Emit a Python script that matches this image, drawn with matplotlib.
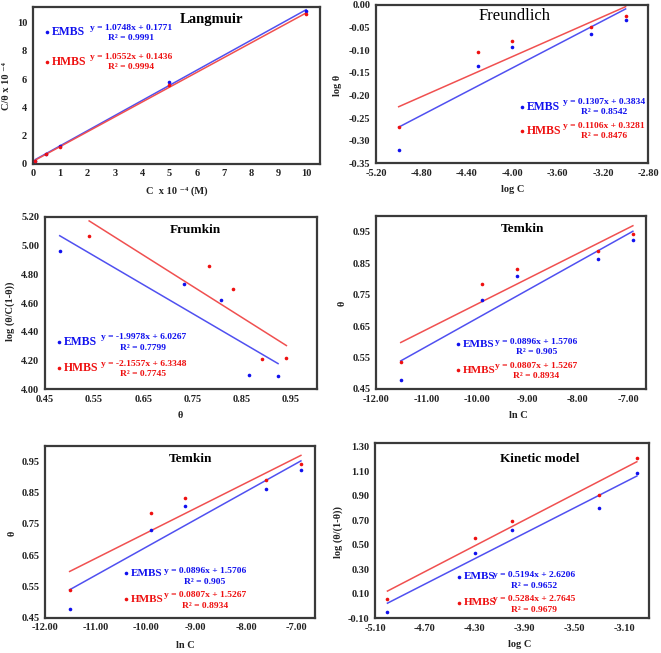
import matplotlib
matplotlib.use("Agg")
import matplotlib.pyplot as plt
from matplotlib.lines import Line2D
import numpy as np

plt.rcParams['font.family'] = ['Liberation Serif', 'DejaVu Serif']
plt.rcParams['axes.unicode_minus'] = False

# ---------------- data ----------------
series_names = ["EMBS", "HMBS"]

# Langmuir
lang_C = [0.1, 0.5, 1, 5, 10]
lang_embs = [0.21, 0.68, 1.23, 5.82, 10.87]
lang_hmbs = [0.19, 0.64, 1.20, 5.55, 10.62]
lang_fit = [(1.0748, 0.1771), (1.0552, 0.1436)]
lang_eq = [("y = 1.0748x + 0.1771", "R² = 0.9991"), ("y = 1.0552x + 0.1436", "R² = 0.9994")]

# Freundlich
fr_logC = [-5.0, -4.301, -4.0, -3.301, -3.0]
fr_embs = [-0.320, -0.135, -0.093, -0.064, -0.034]
fr_hmbs = [-0.269, -0.105, -0.079, -0.049, -0.025]
fr_fit = [(0.1307, 0.3834), (0.1106, 0.3281)]
fr_eq = [("y = 0.1307x + 0.3834", "R² = 0.8542"), ("y = 0.1106x + 0.3281", "R² = 0.8476")]

# Frumkin
fm_theta_embs = [0.480, 0.733, 0.808, 0.865, 0.925]
fm_y_embs = [4.96, 4.735, 4.62, 4.10, 4.09]
fm_theta_hmbs = [0.540, 0.785, 0.833, 0.892, 0.942]
fm_y_hmbs = [5.065, 4.86, 4.70, 4.21, 4.215]
fm_fit = [(-1.9978, 6.0267), (-2.1557, 6.3348)]
fm_eq = [("y = -1.9978x + 6.0267", "R² = 0.7799"), ("y = -2.1557x + 6.3348", "R² = 0.7745")]

# Temkin
tk_lnC = [-11.51, -9.90, -9.21, -7.60, -6.91]
tk_embs = [0.478, 0.732, 0.808, 0.862, 0.923]
tk_hmbs = [0.537, 0.785, 0.832, 0.889, 0.943]
tk_fit = [(0.0896, 1.5706), (0.0807, 1.5267)]
tk_eq = [("y = 0.0896x + 1.5706", "R² = 0.905"), ("y = 0.0807x + 1.5267", "R² = 0.8934")]

# Kinetic model
kn_logC = [-5.0, -4.301, -4.0, -3.301, -3.0]
kn_embs = [-0.045, 0.43, 0.62, 0.80, 1.09]
kn_hmbs = [0.06, 0.557, 0.696, 0.91, 1.21]
kn_fit = [(0.5194, 2.6206), (0.5284, 2.7645)]
kn_eq = [("y = 0.5194x + 2.6206", "R² = 0.9652"), ("y = 0.5284x + 2.7645", "R² = 0.9679")]

# ---------------- style ----------------
W, H = 661, 653
DPI = 100
fig = plt.figure(figsize=(W / DPI, H / DPI), dpi=DPI)
fig.patch.set_facecolor('white')

PT_COL = ["#1010ee", "#ee1010"]
LN_COL = ["#5050f0", "#f05050"]
FRAME = "#3a3a3a"


def fx(px):
    return px / W


def fy(py):
    return 1 - py / H


def make_ax(L, R, T, B):
    ax = fig.add_axes([fx(L), fy(B), fx(R) - fx(L), (B - T) / H])
    for s in ax.spines.values():
        s.set_color(FRAME)
        s.set_linewidth(1.6)
    ax.tick_params(length=0, labelsize=7.5, pad=4)
    return ax


def bold_ticks(ax, xt, yt, xfmt, yfmt):
    ax.set_xticks(xt)
    ax.set_yticks(yt)
    ax.set_xticklabels([xfmt.format(v) for v in xt], fontweight='bold', fontsize=7.5, color="#222222")
    ax.set_yticklabels([yfmt.format(v) for v in yt], fontweight='bold', fontsize=7.5, color="#222222")


def draw_series(ax, xs_list, ys_list, fits):
    for i in range(2):
        xs = np.array(xs_list[i])
        ys = np.array(ys_list[i])
        m, b = fits[i]
        xl = np.array([xs.min(), xs.max()])
        ax.plot(xl, m * xl + b, color=LN_COL[i], lw=1.1, zorder=2)
        ax.plot(xs, ys, 'o', color=PT_COL[i], ms=2.6, mec='none', zorder=3)


def legend_block(dot, eqc, dy_eq, eqs, fs_name=8.0, fs_eq=6.8):
    for i in range(2):
        x, y = dot[i]
        fig.add_artist(Line2D([fx(x)], [fy(y)], marker='o', ms=2.6, color=PT_COL[i],
                              mec='none', transform=fig.transFigure))
        fig.text(fx(x + 5), fy(y), series_names[i], color=PT_COL[i], fontsize=fs_name,
                 fontweight='bold', ha='left', va='center')
        ex, ey = eqc[i]
        fig.text(fx(ex), fy(ey), eqs[i][0], color=PT_COL[i], fontsize=fs_eq,
                 fontweight='bold', ha='center', va='center')
        fig.text(fx(ex), fy(ey + dy_eq), eqs[i][1], color=PT_COL[i], fontsize=fs_eq,
                 fontweight='bold', ha='center', va='center')


def label(x, y, s, rot=0, fs=7.5):
    fig.text(fx(x), fy(y), s, fontsize=fs, fontweight='bold', rotation=rot,
             ha='center', va='center', color="#222222")


# ---------------- Panel 1: Langmuir ----------------
ax1 = make_ax(32.7, 320, 7.3, 163.5)
draw_series(ax1, [lang_C, lang_C], [lang_embs, lang_hmbs], lang_fit)
ax1.set_xlim(0, 10.51)
ax1.set_ylim(0, 11.1)
bold_ticks(ax1, list(range(0, 11)), [0, 2, 4, 6, 8, 10], "{:d}", "{:d}")
fig.text(fx(211.7), fy(20), "Langmuir", fontsize=10.5, fontweight='bold', ha='center', va='center')
legend_block([(47, 32), (47, 62.3)], [(131, 27.7), (131, 56.7)], 10, lang_eq, fs_name=8.5)
label(7, 86, "C/θ x 10 ⁻⁴", rot=90)
label(176.7, 190.7, "C  x 10 ⁻⁴ (M)")

# ---------------- Panel 2: Freundlich ----------------
ax2 = make_ax(376, 648.3, 5, 163.3)
draw_series(ax2, [fr_logC, fr_logC], [fr_embs, fr_hmbs], fr_fit)
ax2.set_xlim(-5.2, -2.8)
ax2.set_ylim(-0.35, 0.0)
bold_ticks(ax2, [-5.2, -4.8, -4.4, -4.0, -3.6, -3.2, -2.8],
           [-0.35, -0.30, -0.25, -0.20, -0.15, -0.10, -0.05, 0.0], "{:.2f}", "{:.2f}")
fig.text(fx(514.3), fy(15.5), "Freundlich", fontsize=12, ha='center', va='center')
legend_block([(521.7, 107.3), (521.7, 130.7)], [(604, 102.3), (604, 125.7)], 10, fr_eq, fs_name=8.5)
label(338, 85, "log θ", rot=90)
label(512.7, 190, "log C")

# ---------------- Panel 3: Frumkin ----------------
ax3 = make_ax(45, 317.3, 216.7, 389.3)
draw_series(ax3, [fm_theta_embs, fm_theta_hmbs], [fm_y_embs, fm_y_hmbs], fm_fit)
ax3.set_xlim(0.45, 1.005)
ax3.set_ylim(4.0, 5.2)
bold_ticks(ax3, [0.45, 0.55, 0.65, 0.75, 0.85, 0.95],
           [4.0, 4.2, 4.4, 4.6, 4.8, 5.0, 5.2], "{:.2f}", "{:.2f}")
fig.text(fx(195), fy(230), "Frumkin", fontsize=9.5, fontweight='bold', ha='center', va='center')
legend_block([(59.3, 341.7), (59.3, 368.3)], [(143.3, 337.3), (143.3, 364)], 10.3, fm_eq, fs_name=8.5)
label(10, 311.7, "log (θ/C(1-θ))", rot=90)
label(180, 416, "θ")

# ---------------- Panel 4: Temkin (right) ----------------
ax4 = make_ax(376, 646, 216, 389)
draw_series(ax4, [tk_lnC, tk_lnC], [tk_embs, tk_hmbs], tk_fit)
ax4.set_xlim(-12, -6.65)
ax4.set_ylim(0.45, 1.0)
bold_ticks(ax4, [-12, -11, -10, -9, -8, -7],
           [0.45, 0.55, 0.65, 0.75, 0.85, 0.95], "{:.2f}", "{:.2f}")
fig.text(fx(522.3), fy(229), "Temkin", fontsize=9.5, fontweight='bold', ha='center', va='center')
legend_block([(457.7, 344.3), (457.7, 370)], [(536.5, 341.7), (536.5, 365.7)], 10.6, tk_eq)
label(342.3, 303.3, "θ", rot=90)
label(518.3, 415, "ln C")

# ---------------- Panel 5: Temkin (left) ----------------
ax5 = make_ax(45, 315, 445.7, 617.7)
draw_series(ax5, [tk_lnC, tk_lnC], [tk_embs, tk_hmbs], tk_fit)
ax5.set_xlim(-12, -6.63)
ax5.set_ylim(0.45, 1.0)
bold_ticks(ax5, [-12, -11, -10, -9, -8, -7],
           [0.45, 0.55, 0.65, 0.75, 0.85, 0.95], "{:.2f}", "{:.2f}")
fig.text(fx(190.7), fy(459), "Temkin", fontsize=9.5, fontweight='bold', ha='center', va='center')
legend_block([(126, 573.3), (126, 599.3)], [(205, 571), (205, 595)], 10.7, tk_eq)
label(12.3, 533.3, "θ", rot=90)
label(185, 645, "ln C")

# ---------------- Panel 6: Kinetic model ----------------
ax6 = make_ax(375, 649.3, 443.3, 618.3)
draw_series(ax6, [kn_logC, kn_logC], [kn_embs, kn_hmbs], kn_fit)
ax6.set_xlim(-5.1, -2.9)
ax6.set_ylim(-0.1, 1.33)
bold_ticks(ax6, [-5.1, -4.7, -4.3, -3.9, -3.5, -3.1],
           [-0.1, 0.1, 0.3, 0.5, 0.7, 0.9, 1.1, 1.3], "{:.2f}", "{:.2f}")
fig.text(fx(539.3), fy(459.3), "Kinetic model", fontsize=9.5, fontweight='bold', ha='center', va='center')
legend_block([(459.3, 576.7), (459.3, 602.7)], [(534, 575), (534, 599.3)], 10.5, kn_eq)
label(338.3, 531.7, "log (θ/(1-θ))", rot=90)
label(519.3, 644.3, "log C")

fig.savefig("out.png", dpi=DPI, facecolor='white')
